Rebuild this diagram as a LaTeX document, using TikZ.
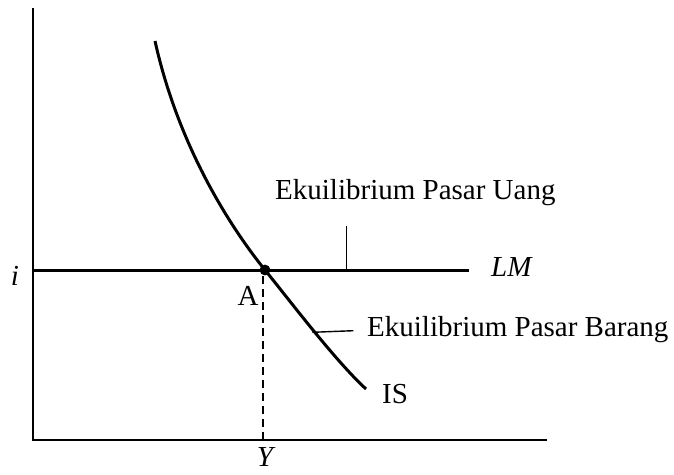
\documentclass[tikz,border=0pt]{standalone}
\usepackage{fontspec}
\setmainfont{Liberation Serif}
\begin{document}
\begin{tikzpicture}[x=1pt,y=-1pt,
  axis/.style={line width=1.8pt},
  thick curve/.style={line width=3pt},
  leader/.style={line width=1.4pt},
  lbl/.style={inner sep=0pt, font=\fontsize{29}{34}\selectfont},
  dashline/.style={line width=2.2pt, dash pattern=on 8pt off 5pt}]
\useasboundingbox (0,0) rectangle (674,474);
% axes
\coordinate (top) at (33,8);
\coordinate (origin) at (33,440);
\coordinate (xend) at (547,440);
\draw[axis] (top) -- (origin) -- (xend);
% LM
\coordinate (lmL) at (33,270);
\coordinate (lmR) at (469,270);
\draw[thick curve] (lmL) -- (lmR);
% IS curve
\coordinate (A) at (265,270);
\coordinate (isTop) at (155,41);
\coordinate (isEnd) at (366,389);
\draw[thick curve] (isTop) .. controls (179,149) and (232.6,230) .. (A)
  .. controls (289.3,300) and (334.8,360.2) .. (isEnd);
% point A
\fill (A) circle (5.4pt);
\coordinate (Ybase) at (263,440);
\coordinate (Ytop) at (263,276);
\draw[dashline] (Ytop) -- (Ybase);
% labels
\node[lbl, anchor=west] (uang) at (275,193) {Ekuilibrium Pasar Uang};
\node[lbl, anchor=west] (barang) at (367,330) {Ekuilibrium Pasar Barang};
\node[lbl, anchor=west] (lm) at (491,267) {\itshape LM};
\node[lbl, anchor=west] (is) at (382,394) {IS};
\node[lbl] (alabel) at (248,296) {A};
\node[lbl] (ylabel) at (265,457) {\itshape Y};
\node[lbl] (ilabel) at (15,276) {\itshape i};
% leaders
\coordinate (uangfoot) at (346.7,270);
\coordinate (uangtop) at (346.7,226);
\draw[leader] (uangfoot) -- (uangtop);
\coordinate (barangfoot) at (312.3,332.3);
\coordinate (barangend) at (353.3,330.7);
\draw[leader] (barangfoot) -- (barangend);
\end{tikzpicture}
\end{document}
